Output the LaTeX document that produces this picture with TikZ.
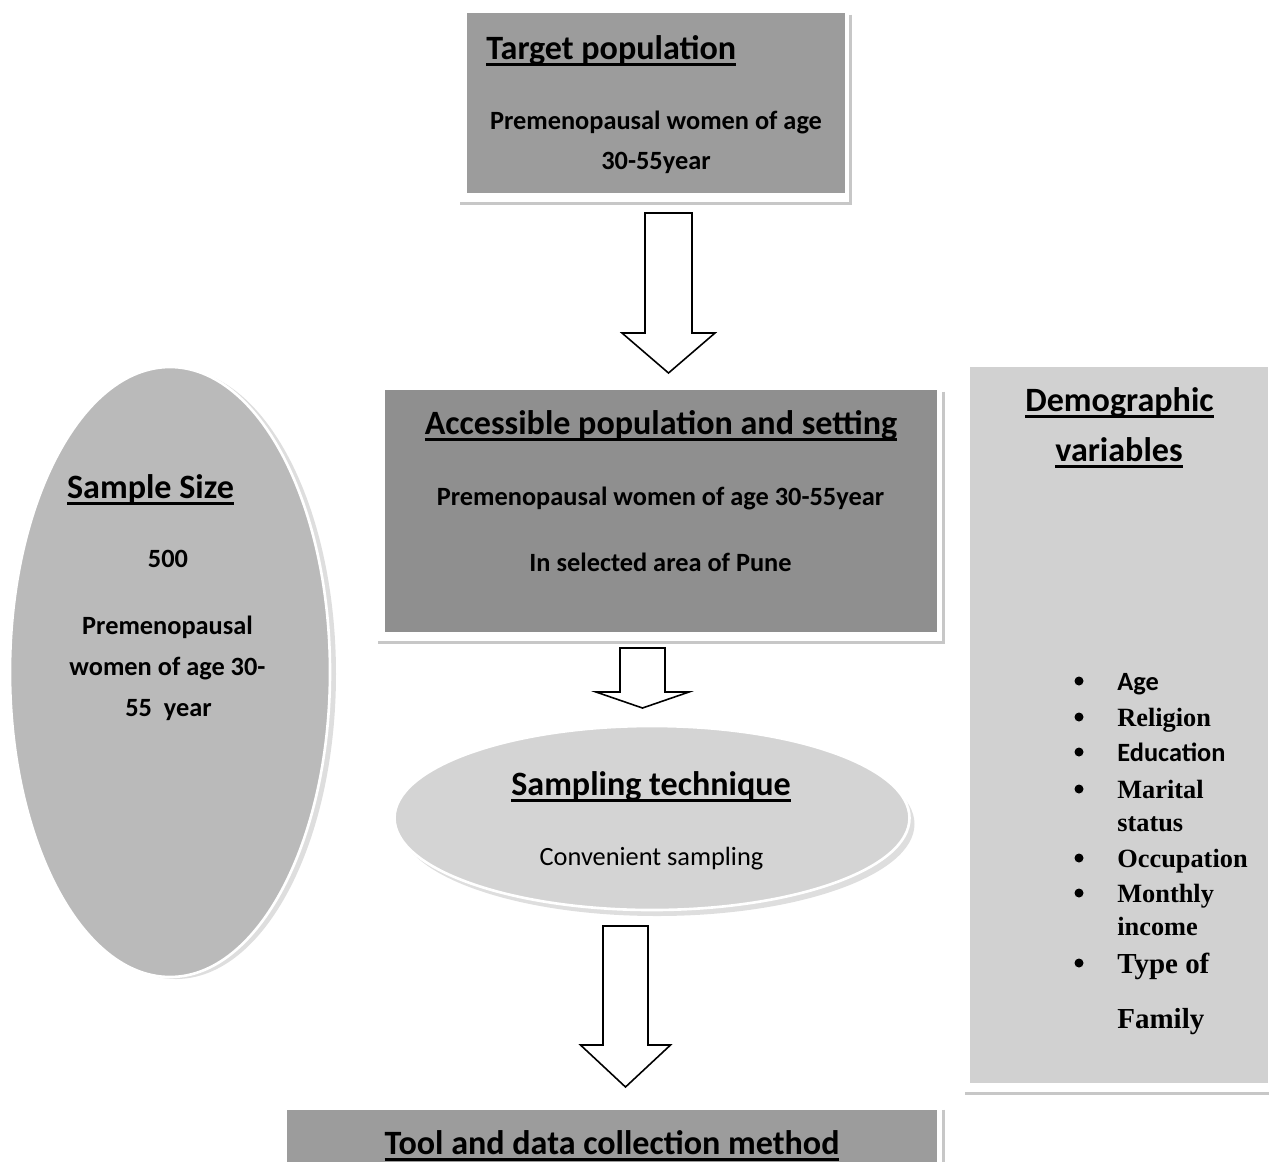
\documentclass[tikz,border=0pt]{standalone}
\usepackage{fontspec}
\setmainfont{Carlito}
\newfontfamily\listfont{Liberation Serif}
\usetikzlibrary{shapes.geometric,calc}

\def\px{0.02cm}
% thick underline for the headings
\newcommand{\undl}[1]{\setbox0\hbox{#1}\rlap{\copy0}\rule[-3.8pt]{\wd0}{1.8pt}}

\tikzset{
  box/.style={rectangle, inner sep=0pt},
  oval/.style={ellipse, inner sep=0pt, draw=white, line width=1.5pt},
  shade/.style={ellipse, inner sep=0pt, fill=black!13},
  shadowline/.style={draw=black!22, line width=1.8pt},
  blockarrow/.style={draw=black, fill=white, line width=0.9pt, line join=miter},
  head/.style={font=\fontsize{19.4}{23}\selectfont\bfseries, inner sep=0pt, anchor=base},
  body/.style={font=\fontsize{15}{18}\selectfont\bfseries, inner sep=0pt, anchor=base},
  sansitem/.style={font=\fontsize{15}{18}\selectfont\bfseries, inner sep=0pt, anchor=base west},
  serifitem/.style={font=\listfont\fontsize{15}{18}\selectfont\bfseries, inner sep=0pt, anchor=base west},
  bigitem/.style={font=\listfont\fontsize{16.5}{20}\selectfont\bfseries, inner sep=0pt, anchor=base west},
  dot/.style={circle, fill=black, inner sep=0pt, minimum size=9*\px},
}

\begin{document}
\begin{tikzpicture}[x=\px, y=-\px]
  \useasboundingbox (0,0) rectangle (1269,1161);
  \clip (0,0) rectangle (1269,1161);

  % boxes and their shadows
  \node[box, fill=black!39, minimum width=378*\px, minimum height=180*\px] (target) at (656,103) {};
  \draw[shadowline] ($(target.north east)+(5,2)$) |- ($(target.south west)+(-7,10)$);

  \node[box, fill=black!44, minimum width=552*\px, minimum height=242*\px] (access) at (661,511) {};
  \draw[shadowline] ($(access.north east)+(6,2)$) |- ($(access.south west)+(-7,10)$);

  \node[box, fill=black!18, minimum width=298*\px, minimum height=716*\px] (demo) at (1119,725) {};
  \draw[shadowline] ($(demo.south east)+(6,10)$) -- ($(demo.south west)+(-5,10)$);

  \node[box, fill=black!39, minimum width=650*\px, minimum height=100*\px] (tool) at (612,1160) {};
  \draw[shadowline] ($(tool.north east)+(6,0)$) -- ($(tool.south east)+(6,0)$);

  % ovals
  \node[shade, minimum width=320*\px, minimum height=610*\px] (sizeshade) at (176,674) {};
  \node[oval, fill=black!27, minimum width=320*\px, minimum height=610*\px] (size) at (170,672) {};
  \node[shade, minimum width=515*\px, minimum height=184*\px] (techshade) at (657,824) {};
  \node[oval, fill=black!17, minimum width=515*\px, minimum height=184*\px] (tech) at (652,818) {};

  % block arrows
  \foreach \cx/\ya/\yb/\yc/\sw/\hw in {668.5/213/333/373/23.5/46.5,
                                       642.5/648/692/708/22.5/46.5,
                                       625.5/926/1045/1087/22.5/45}
    \draw[blockarrow] (\cx-\sw,\ya) -- (\cx+\sw,\ya) -- (\cx+\sw,\yb) -- (\cx+\hw,\yb)
      -- (\cx,\yc) -- (\cx-\hw,\yb) -- (\cx-\sw,\yb) -- cycle;

  % target population
  \node[head, anchor=base west] (targethead) at (486,59) {\undl{Target population}};
  \node[body] (targetline1) at (656,129) {Premenopausal women of age};
  \node[body] (targetline2) at (656,169) {30-55year};

  % accessible population
  \node[head] (accesshead) at (661,434) {\undl{Accessible population and setting}};
  \node[body] (accessline1) at (660.5,505) {Premenopausal women of age 30-55year};
  \node[body] (accessline2) at (660.5,571) {In selected area of Pune};

  % sampling technique
  \node[head] (techhead) at (651,795) {\undl{Sampling technique}};
  \node[body, font=\fontsize{15}{18}\selectfont] (techline) at (651.5,865) {Convenient sampling};

  % sample size
  \node[head] (sizehead) at (150.5,498) {\undl{Sample Size}};
  \node[body] (sizeline1) at (168,567) {500};
  \node[body] (sizeline2) at (167.5,634) {Premenopausal};
  \node[body] (sizeline3) at (167.5,675) {women of age 30-};
  \node[body] (sizeline4) at (168.5,716) {55\ \ year};

  % demographic variables
  \node[head] (demohead1) at (1119.5,411) {\undl{Demographic}};
  \node[head] (demohead2) at (1119,461) {\undl{variables}};
  \foreach \y in {681,717,752,789,858,893,963}
    \node[dot] (bullet\y) at (1079,\y) {};
  \foreach \y/\txt/\sty in {690/Age/sansitem, 726/Religion/serifitem, 761/Education/sansitem,
                            798/Marital/serifitem, 831/status/serifitem, 867/Occupation/serifitem,
                            902/Monthly/serifitem, 935/income/serifitem, 973/Type of/bigitem,
                            1028/Family/bigitem}
    \node[\sty] (item\y) at (1117,\y) {\txt};

  % tool
  \node[head] (toolhead) at (612,1154) {\undl{Tool and data collection method}};
\end{tikzpicture}
\end{document}
